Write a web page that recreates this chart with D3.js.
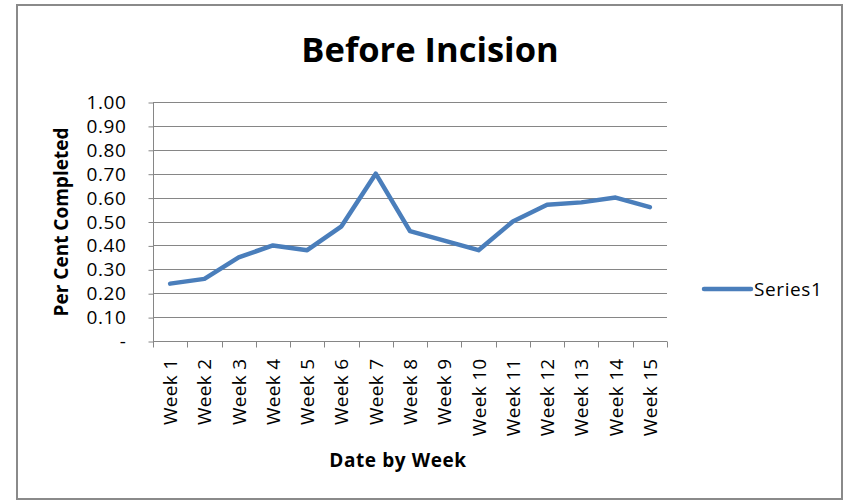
<!DOCTYPE html>
<html>
<head>
<meta charset="utf-8">
<script src="https://cdn.jsdelivr.net/npm/d3@7/dist/d3.min.js"></script>
<style>
  html, body { margin: 0; padding: 0; background: #fff; }
  svg { display: block; }
  text { font-family: "Open Sans", "Noto Sans", sans-serif; fill: #000; }
</style>
</head>
<body>
<svg id="chart" width="845" height="501"></svg>
<script>
// Weekly completion ratio before incision
const weeks = ["Week 1", "Week 2", "Week 3", "Week 4", "Week 5", "Week 6", "Week 7", "Week 8",
               "Week 9", "Week 10", "Week 11", "Week 12", "Week 13", "Week 14", "Week 15"];
const series1 = [0.24, 0.26, 0.35, 0.40, 0.38, 0.48, 0.70, 0.46, 0.42, 0.38, 0.50, 0.57, 0.58, 0.60, 0.56];
const yTicks = [0, 0.1, 0.2, 0.3, 0.4, 0.5, 0.6, 0.7, 0.8, 0.9, 1.0];
const seriesName = "Series1";
const titleText = "Before Incision";
const yTitle = "Per Cent Completed";
const xTitle = "Date by Week";

const svg = d3.select("#chart");
const plot = { left: 153, right: 667, top: 102, bottom: 341 };
const gridColor = "#868686";
const lineColor = "#4A7EBB";

// outer chart frame
svg.append("rect")
  .attr("x", 17).attr("y", 5).attr("width", 825).attr("height", 494)
  .attr("fill", "#fff").attr("stroke", "#8a8a8a").attr("stroke-width", 2);

const x = d3.scaleBand().domain(weeks).range([plot.left, plot.right]).padding(0);
const y = d3.scaleLinear().domain([0, 1]).range([plot.bottom, plot.top]);

// horizontal gridlines
svg.append("g").selectAll("line").data(yTicks.filter(d => d > 0)).join("line")
  .attr("x1", plot.left).attr("x2", plot.right)
  .attr("y1", d => Math.round(y(d)) + 0.5).attr("y2", d => Math.round(y(d)) + 0.5)
  .attr("stroke", gridColor).attr("stroke-width", 1);

// y axis
const yAxis = d3.axisLeft(y).tickValues(yTicks).tickSize(5).tickPadding(22)
  .tickFormat(d => d === 0 ? "-" : d3.format(".2f")(d));
const gy = svg.append("g").attr("transform", `translate(${plot.left + 0.5},0.5)`).call(yAxis);
gy.select(".domain").attr("stroke", gridColor).attr("d", `M0,${plot.top}V${plot.bottom}`);
gy.selectAll(".tick line").attr("stroke", gridColor);
gy.selectAll(".tick text").attr("font-size", 19).attr("fill", "#000")
  .attr("letter-spacing", 0.6).attr("font-family", "'Open Sans', sans-serif");

// x axis: ticks at category boundaries
const gx = svg.append("g").attr("transform", `translate(0,${plot.bottom + 0.5})`);
gx.append("line").attr("x1", plot.left).attr("x2", plot.right).attr("stroke", gridColor);
const bounds = weeks.map(w => x(w)).concat([x(weeks[weeks.length - 1]) + x.bandwidth()]);
gx.selectAll("line.tk").data(bounds).join("line").attr("class", "tk")
  .attr("x1", d => Math.round(d) + 0.5).attr("x2", d => Math.round(d) + 0.5)
  .attr("y1", 0).attr("y2", 6).attr("stroke", gridColor);
gx.selectAll("text").data(weeks).join("text")
  .attr("transform", d => `translate(${x(d) + x.bandwidth() / 2 + 7},${17}) rotate(-90)`)
  .attr("text-anchor", "end").attr("font-size", 19).attr("letter-spacing", 0.3).text(d => d);

// data line
const line = d3.line().x((d, i) => x(weeks[i]) + x.bandwidth() / 2).y(d => y(d));
svg.append("path").datum(series1).attr("d", line)
  .attr("fill", "none").attr("stroke", lineColor).attr("stroke-width", 4.5)
  .attr("stroke-linejoin", "round").attr("stroke-linecap", "round");

// title
svg.append("text").attr("x", 430).attr("y", 62).attr("text-anchor", "middle")
  .attr("font-size", 34.5).attr("font-weight", "bold").text(titleText);

// axis titles
svg.append("text").attr("transform", "translate(68,222) rotate(-90)").attr("text-anchor", "middle")
  .attr("font-size", 19).attr("font-weight", "bold").text(yTitle);
svg.append("text").attr("x", 398).attr("y", 467).attr("text-anchor", "middle")
  .attr("font-size", 19).attr("font-weight", "bold").attr("letter-spacing", 0.6).text(xTitle);

// legend
const lg = svg.append("g").attr("transform", "translate(704,289)");
lg.append("line").attr("x1", 0).attr("x2", 47).attr("stroke", lineColor).attr("stroke-width", 4.5)
  .attr("stroke-linecap", "round");
lg.append("text").attr("x", 50).attr("y", 7).attr("font-size", 19).attr("letter-spacing", 0.6).text(seriesName);
</script>
</body>
</html>
